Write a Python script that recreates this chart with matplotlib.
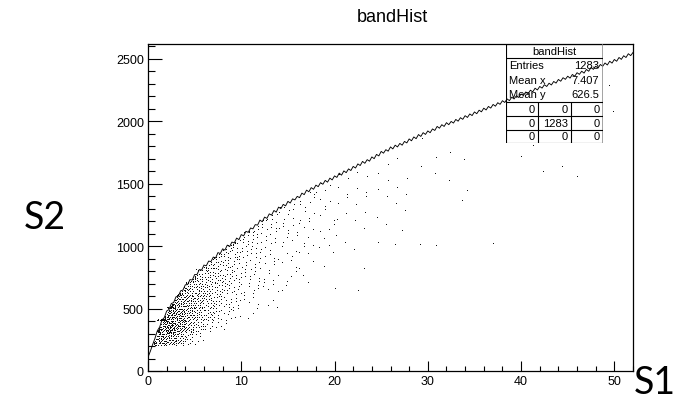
import numpy as np
import matplotlib
matplotlib.use("Agg")
import matplotlib.pyplot as plt
from matplotlib.ticker import MultipleLocator

# ---------------- data ----------------
title = "bandHist"
x_label = "S1"
y_label = "S2"

# upper edge curve (every 0.25 in S1, from 0 to 52)
curve_s2 = [
    110, 158, 212, 262, 322, 352, 408, 428, 480, 492, 540, 548, 594, 598, 642, 648,
    690, 692, 732, 728, 772, 772, 812, 808, 848, 842, 880, 876, 912, 905, 948, 940,
    978, 968, 1008, 996, 1032, 1025, 1064, 1052, 1092, 1082, 1118, 1110, 1145, 1138, 1172, 1168,
    1208, 1195, 1232, 1222, 1258, 1248, 1285, 1272, 1312, 1300, 1334, 1322, 1358, 1345, 1378, 1370,
    1398, 1388, 1424, 1412, 1448, 1435, 1468, 1455, 1488, 1476, 1508, 1495, 1526, 1512, 1544, 1530,
    1562, 1550, 1584, 1568, 1602, 1588, 1618, 1605, 1638, 1625, 1658, 1645, 1678, 1663, 1692, 1680,
    1714, 1700, 1734, 1722, 1758, 1744, 1772, 1760, 1794, 1778, 1808, 1794, 1822, 1808, 1838, 1826,
    1858, 1843, 1874, 1860, 1893, 1878, 1908, 1894, 1922, 1908, 1938, 1926, 1958, 1944, 1972, 1958,
    1988, 1972, 1998, 1985, 2014, 2000, 2028, 2015, 2044, 2030, 2058, 2045, 2074, 2060, 2088, 2075,
    2104, 2090, 2118, 2105, 2134, 2120, 2148, 2135, 2164, 2150, 2178, 2165, 2192, 2178, 2204, 2190,
    2218, 2205, 2234, 2220, 2248, 2235, 2264, 2250, 2278, 2265, 2292, 2278, 2304, 2290, 2318, 2305,
    2334, 2320, 2348, 2335, 2360, 2345, 2374, 2360, 2388, 2375, 2400, 2385, 2414, 2400, 2430, 2415,
    2440, 2425, 2454, 2440, 2466, 2450, 2480, 2465, 2494, 2480, 2510, 2495, 2524, 2510, 2540, 2525,
    2550]
curve_s1 = np.linspace(0, 52, len(curve_s2))

# band histogram: counts per (S1 column, S2 bin of 100)
band_s1_lo = [0.6, 1, 2, 3, 4, 5, 6, 7, 8, 9, 10, 12, 14, 16, 18, 20, 24, 28]
band_s1_hi = [1, 2, 3, 4, 5, 6, 7, 8, 9, 10, 12, 14, 16, 18, 20, 24, 28, 34]
band_s2_start = [200, 200, 200, 200, 200, 200, 300, 300, 300, 400,
                 400, 500, 600, 700, 800, 600, 1000, 1000]
band_counts = [
    [12],
    [42, 46, 30],
    [36, 56, 46, 28],
    [24, 40, 40, 35, 20],
    [12, 25, 30, 28, 22, 10],
    [5, 15, 20, 22, 22, 18, 3],
    [8, 14, 16, 17, 16, 12],
    [4, 9, 12, 13, 13, 12, 7],
    [2, 6, 8, 10, 10, 10, 9, 2],
    [4, 5, 7, 8, 8, 9, 6],
    [3, 5, 7, 8, 10, 12, 12, 8],
    [3, 4, 5, 6, 7, 8, 9, 5],
    [2, 3, 3, 4, 5, 6, 6, 3],
    [2, 2, 3, 3, 4, 4, 5, 2],
    [1, 2, 2, 3, 3, 3, 4],
    [1, 0, 1, 1, 2, 2, 3, 4, 4, 4],
    [1, 1, 2, 2, 3, 3, 2],
    [1, 0, 0, 1, 0, 2, 2, 2, 1],
]
# isolated events far from the band core
far_s1 = [22.5, 24.7, 27.2, 30.9, 34.2, 37.0, 40.0, 41.3, 42.4, 44.4, 46.0, 49.4, 49.9]
far_s2 = [640, 1024, 1120, 1000, 1440, 1016, 1710, 1800, 1590, 1630, 1550, 2280, 2070]

# stats box
stats_labels = ["Entries", "Mean x", "Mean y"]
stats_values = ["1283", "7.407", "626.5"]
stats_table = [["0", "0", "0"], ["0", "1283", "0"], ["0", "0", "0"]]

# ---------------- drawing ----------------
W, H = 687, 402
fig = plt.figure(figsize=(W / 100, H / 100), dpi=100)
fig.patch.set_facecolor("white")
ax = fig.add_axes([148 / W, 1 - 372 / H, (633 - 148) / W, (372 - 45) / H])

# place the binned counts as dots inside their bins (ROOT "scatter" style)
xs, ys = [], []
g = 0
a1, a2 = 0.7548776662, 0.5698402910
for lo, hi, s0, counts in zip(band_s1_lo, band_s1_hi, band_s2_start, band_counts):
    for k, n in enumerate(counts):
        y0 = s0 + 100 * k
        for _ in range(n):
            g += 1
            u = (0.5 + g * a1) % 1.0
            v = (0.5 + g * a2) % 1.0
            x = lo + u * (hi - lo)
            top = min(y0 + 100, np.interp(x, curve_s1, curve_s2) - 10)
            yv = y0 + v * max(top - y0, 5)
            xs.append(x)
            ys.append(yv)
xs += far_s1
ys += far_s2
ax.plot(xs, ys, ",", color="#111111", zorder=2)
ax.plot(curve_s1, curve_s2, color="black", lw=0.65, zorder=3)

ax.set_xlim(0, 52)
ax.set_ylim(0, 2618)
ax.xaxis.set_major_locator(MultipleLocator(10))
ax.xaxis.set_minor_locator(MultipleLocator(2))
ax.yaxis.set_major_locator(MultipleLocator(500))
ax.yaxis.set_minor_locator(MultipleLocator(100))
ax.tick_params(axis="both", which="both", direction="in", top=False, right=False,
               width=0.8, color="black")
ax.tick_params(axis="y", which="major", length=10, pad=3, labelsize=9)
ax.tick_params(axis="y", which="minor", length=5)
ax.tick_params(axis="x", which="major", length=7.5, pad=3, labelsize=9)
ax.tick_params(axis="x", which="minor", length=3.5)
for lab in ax.get_xticklabels() + ax.get_yticklabels():
    lab.set_fontfamily("Liberation Sans")
for sp in ax.spines.values():
    sp.set_linewidth(0.9)
    sp.set_color("black")

fig.text(392 / W, 1 - 17 / H, title, ha="center", va="center", fontsize=13,
         family="Liberation Sans")
fig.text(45 / W, 1 - 218 / H, y_label, ha="center", va="center", fontsize=27,
         family="Lato")
fig.text(655 / W, 1 - 383 / H, x_label, ha="center", va="center", fontsize=27,
         family="Lato")

# stats box overlay (pixel-unit axes)
bw, bh = 97, 99
sa = fig.add_axes([506 / W, 1 - 144 / H, bw / W, bh / H])
sa.set_xlim(0, bw)
sa.set_ylim(bh, 0)
sa.axis("off")
sa.patch.set_alpha(0)
lk = dict(color="black", lw=0.8, solid_capstyle="butt")
sa.plot([0, 0], [0, bh], **lk)
sa.plot([0, bw], [bh, bh], **lk)
sa.plot([0, bw], [0, 0], **lk)
sa.plot([bw - 0.5, bw - 0.5], [0, bh], color="#888888", lw=1.8)
sa.plot([0, bw], [14, 14], **lk)
row_lines = [57.5, 72, 86]
for yl in row_lines:
    sa.plot([0, bw], [yl, yl], **lk)
col_edges = [0, 32, 65, bw]
for xc in col_edges[1:-1]:
    sa.plot([xc, xc], [57.5, bh], **lk)
fs = 8
tf = dict(fontsize=fs, family="Liberation Sans", color="black")
sa.text(bw / 2, 7, title, ha="center", va="center", **tf)
for i, (lbl, val) in enumerate(zip(stats_labels, stats_values)):
    yy = 21 + 14.5 * i
    sa.text(3, yy, lbl, ha="left", va="center", **tf)
    sa.text(bw - 4, yy, val, ha="right", va="center", **tf)
row_tops = [57.5, 72, 86, bh]
for r, row in enumerate(stats_table):
    yy = (row_tops[r] + row_tops[r + 1]) / 2
    for c, val in enumerate(row):
        sa.text(col_edges[c + 1] - 3, yy, val, ha="right", va="center", **tf)

fig.savefig("out.png", dpi=100)
